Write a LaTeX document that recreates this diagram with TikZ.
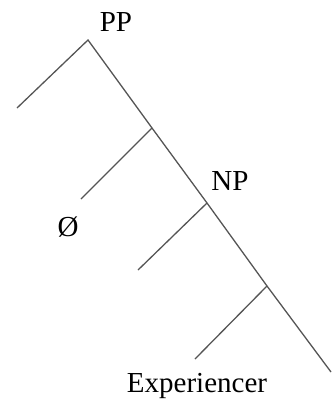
\documentclass[tikz,border=0pt]{standalone}
\usepackage{fontspec}
\setmainfont{Liberation Serif}
\usepackage{xcolor}
\definecolor{branchgray}{RGB}{85, 85, 85}
\usetikzlibrary{positioning}

\begin{document}
\begin{tikzpicture}[x=0.5pt,y=-0.5pt,
    branch/.style={draw=branchgray, line width=0.65pt},
    cat/.style={font=\fontsize{14.5}{17}\selectfont, inner sep=0pt}]
    \useasboundingbox (0,0) rectangle (332,403);

    % Points of the tree
    \coordinate (pp) at (88,40);
    \coordinate (ppleft) at (17,108);
    \coordinate (bone) at (152,128);
    \coordinate (npnode) at (207,203);
    \coordinate (bthree) at (267,286);
    \coordinate (spineend) at (331,372);

    % Spine and the left daughter of PP
    \draw[branch] (ppleft) -- (pp) -- (bone) -- (npnode) -- (bthree) -- (spineend);

    % Labels
    \node[cat] (pplabel) at (116,22) {PP};
    \node[cat] (nplabel) at (230,181) {NP};
    \node[cat] (null) at (68,227) {Ø};
    \node[cat] (exp) at (197,386) {Experiencer};

    % Left branches
    \coordinate (boneend) at (81,199);
    \coordinate (npend) at (138,270);
    \coordinate (bthreeend) at (195,359);
    \draw[branch] (bone) -- (boneend);
    \draw[branch] (npnode) -- (npend);
    \draw[branch] (bthree) -- (bthreeend);
\end{tikzpicture}
\end{document}
